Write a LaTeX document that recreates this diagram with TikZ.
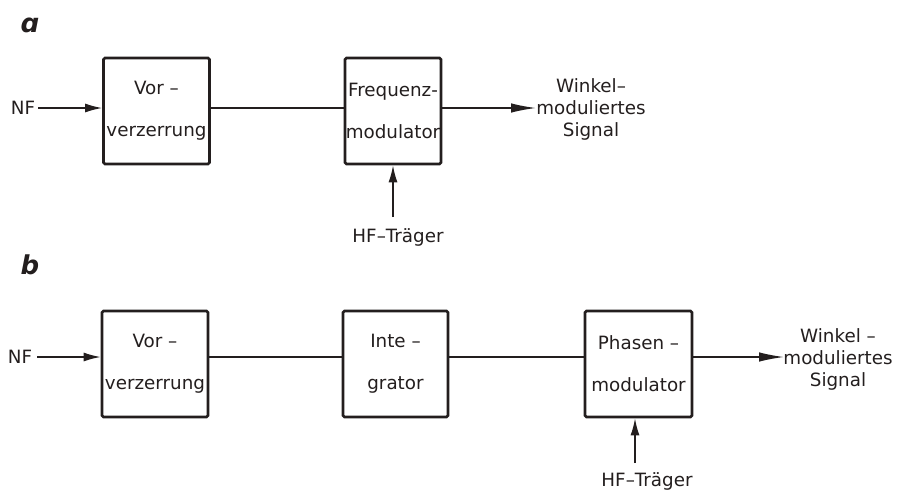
\documentclass[tikz,border=0pt]{standalone}
\usepackage{fontspec}
\setmainfont{DejaVu Sans}
\usetikzlibrary{arrows.meta}
\definecolor{ink}{RGB}{35,30,30}
\begin{document}
\begin{tikzpicture}[x=1pt,y=-1pt,
  every node/.style={text=ink,font=\fontsize{18.3}{42}\selectfont,inner sep=0pt},
  blockbox/.style={draw=ink,line width=2.8pt,rounded corners=1.5pt,minimum width=#1,minimum height=106pt,align=center},
  blockbox/.default=106pt,
  conn/.style={draw=ink,line width=1.4pt},
  tipin/.style={-{Latex[length=17pt,width=9pt]}},
  tipout/.style={-{Latex[length=25pt,width=9.5pt]}},
  outlabel/.style={align=center,font=\fontsize{18.3}{22}\selectfont},
  panel/.style={font=\fontsize{26}{26}\bfseries\itshape\selectfont}]
\useasboundingbox (0,0) rectangle (898,491);
% ---------- a ----------
\node[panel] (la) at (30,25) {ɑ};
\node (nfa) at (23,108) {NF};
\node[blockbox] (vora) at (156.5,111) {Vor –\\verzerrung};
\node[blockbox=96pt] (freq) at (393,111) {Frequenz-\\modulator};
\node[outlabel] (outa) at (591,109) {Winkel–\\moduliertes\\Signal};
\node (hfa) at (398,237) {HF–Träger};
\coordinate (hfsa) at (393,217);
\coordinate (enda) at (536,108);
\draw[conn,tipin] (nfa.east) ++(3pt,0) -- (vora.west |- nfa);
\draw[conn] (vora.east |- nfa) -- (freq.west |- nfa);
\draw[conn,tipout] (freq.east |- nfa) -- (enda);
\draw[conn,tipin] (hfsa) -- (freq.south -| hfsa);
% ---------- b ----------
\node[panel] (lb) at (30,265) {b};
\node (nfb) at (20,357) {NF};
\node[blockbox] (vorb) at (155,364) {Vor –\\verzerrung};
\node[blockbox=105pt] (integ) at (395.5,364) {Inte –\\grator};
\node[blockbox=107pt] (phase) at (638.5,364) {Phasen –\\modulator};
\node[outlabel] (outb) at (838,359) {Winkel –\\moduliertes\\Signal};
\node (hfb) at (647,481) {HF–Träger};
\coordinate (hfsb) at (635,463);
\coordinate (endb) at (784,357);
\draw[conn,tipin] (nfb.east) ++(5pt,0) -- (vorb.west |- nfb);
\draw[conn] (vorb.east |- nfb) -- (integ.west |- nfb);
\draw[conn] (integ.east |- nfb) -- (phase.west |- nfb);
\draw[conn,tipout] (phase.east |- nfb) -- (endb);
\draw[conn,tipin] (hfsb) -- (phase.south -| hfsb);
\end{tikzpicture}
\end{document}
